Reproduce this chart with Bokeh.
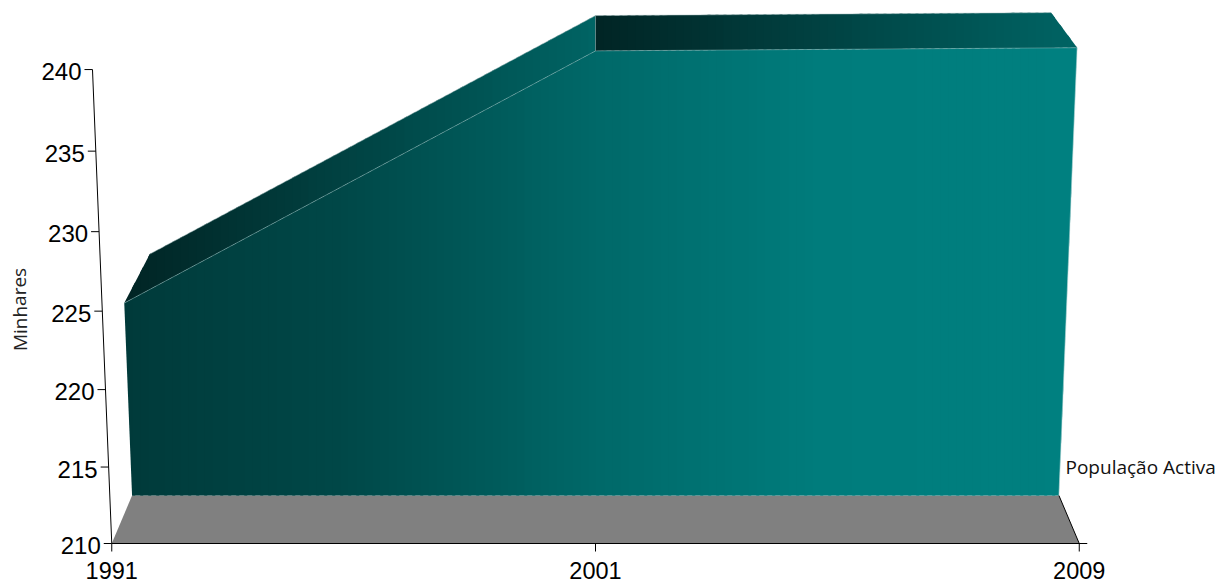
from bokeh.plotting import figure
from bokeh.embed import file_html
from bokeh.resources import INLINE
from bokeh.core.properties import value as fv

categories = ["1991", "2001", "2009"]
series_values = [223.0, 239.4, 239.6]
y_ticks = [210, 215, 220, 225, 230, 235, 240]
series_name = "População Activa"
y_title = "Minhares"

W, H = 1219, 582
OX, OY = 0, 0
V0, V1 = 210.0, 240.0
CX, BASE, FW, PH, PERSP = 595.0, 543.0, 967.5, 455.8, 0.0383
VPX, VPY = 595.0, -600.0
K_FACE, K_BACK = 0.958, 0.906
FACE_STOPS = [(0.0, 58), (0.235, 72), (0.5, 105), (0.73, 124), (1.0, 128)]


def proj(u, v, k=1.0):
    t = (v - V0) / (V1 - V0)
    d = 1 - PERSP * t
    x = CX + (u - 0.5) * FW / d
    y = BASE - PH * t / d
    return (VPX + (x - VPX) * k, VPY + (y - VPY) * k)


def clip(poly, lo, hi):
    def cut(pts, inside, edge):
        out = []
        for i, a in enumerate(pts):
            b = pts[(i + 1) % len(pts)]
            ia, ib = inside(a), inside(b)
            if ia:
                out.append(a)
            if ia != ib:
                s = (edge - a[0]) / (b[0] - a[0])
                out.append((edge, a[1] + s * (b[1] - a[1])))
        return out
    r = cut(poly, lambda q: q[0] >= lo, lo)
    if r:
        r = cut(r, lambda q: q[0] <= hi, hi)
    return r


def roof_color(s):
    s = max(0.0, min(1.0, s))
    return "#%02x%02x%02x" % (1 - round(s), round(36 + 64 * s), round(36 + 64 * s))


def face_color(s):
    s = max(0.0, min(1.0, s))
    for (a, ca), (b, cb) in zip(FACE_STOPS[:-1], FACE_STOPS[1:]):
        if s <= b:
            c = round(ca + (cb - ca) * (s - a) / (b - a))
            return "#00%02x%02x" % (c, c)
    return "#008080"


p = figure(width=W, height=H, x_range=(OX, OX + W), y_range=(OY + H, OY),
           output_backend="svg", toolbar_location=None, min_border=0,
           outline_line_color=None, background_fill_color="white", border_fill_color="white")
p.axis.visible = False
p.grid.visible = False


def gradient(poly, color, step=8):
    xs = [q[0] for q in poly]
    lo, hi = min(xs), max(xs)
    gx, gy, gc = [], [], []
    x = lo
    while x < hi:
        r = clip(poly, x, min(hi, x + step + 3))
        if len(r) >= 3:
            gx.append([q[0] for q in r])
            gy.append([q[1] for q in r])
            gc.append(color((x + step / 2 - lo) / (hi - lo)))
        x += step
    p.patches(gx, gy, fill_color=gc, line_color=None)


n = len(categories)
us = [i / (n - 1) for i in range(n)]
front = [proj(u, v, K_FACE) for u, v in zip(us, series_values)]
back = [proj(u, v, K_BACK) for u, v in zip(us, series_values)]
base_l, base_r = proj(0, V0, K_FACE), proj(1, V0, K_FACE)
floor = [proj(0, V0), proj(1, V0), base_r, base_l]

# floor
p.patch([q[0] for q in floor], [q[1] for q in floor], fill_color="#808080", line_color=None)

# roof faces
for i in range(n - 1):
    gradient([front[i], front[i + 1], back[i + 1], back[i]], roof_color)

# main face
gradient([base_l] + front + [base_r], face_color)

# light edges
for a, b in zip(front[:-1], front[1:]):
    p.line([a[0], b[0]], [a[1], b[1]], line_color="#8fb8b8", line_width=0.5)
for a, b in zip(back[:-1], back[1:]):
    p.line([a[0], b[0]], [a[1], b[1]], line_color="#a8c0c0", line_width=0.5)
p.line([front[-1][0], base_r[0]], [front[-1][1], base_r[1]], line_color="#b8d8d8", line_width=0.6)
p.line([front[1][0], back[1][0]], [front[1][1], back[1][1]], line_color="#7fa0a0", line_width=0.5)

# axes
ax0, ax1 = proj(0, V0), proj(0, V1)
p.line([ax0[0], ax1[0]], [ax0[1], ax1[1]], line_color="black", line_width=1)
r0 = proj(1, V0)
p.line([ax0[0], r0[0] + 8], [ax0[1], r0[1]], line_color="black", line_width=1.2)
p.line([r0[0], base_r[0]], [r0[1], base_r[1]], line_color="black", line_width=1)

tx, ty = [], []
for v in y_ticks:
    a = proj(0, v)
    p.line([a[0] - 8, a[0]], [a[1], a[1]], line_color="black", line_width=1)
    tx.append(a[0] - 11)
    ty.append(a[1] + 2)
p.text(tx, ty, text=[str(v) for v in y_ticks], text_font=fv("Liberation Sans"), text_font_size="24px",
       text_align="right", text_baseline="middle", text_color="black")

cx, cy = [], []
for u in us:
    a = proj(u, V0)
    p.line([a[0], a[0]], [a[1], a[1] + 8], line_color="black", line_width=1)
    cx.append(a[0])
    cy.append(a[1] + 26.5)
p.text(cx, cy, text=categories, text_font=fv("Liberation Sans"), text_font_size="23.5px",
       text_align="center", text_baseline="middle", text_color="black")

p.text([1065], [466], text=[series_name], text_font=fv("Open Sans"), text_font_size="19px",
       text_align="left", text_baseline="middle", text_color="#111111")
p.text([19], [309], text=[y_title], text_font=fv("Open Sans"), text_font_size="19px", angle=1.5708,
       text_align="center", text_baseline="middle", text_color="#222222")

open("out.html", "w").write(file_html(p, INLINE))
